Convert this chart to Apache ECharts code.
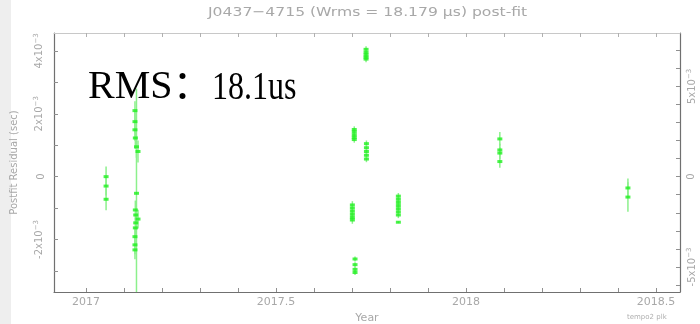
<!DOCTYPE html>
<html>
<head>
<meta charset="utf-8">
<script src="https://cdn.jsdelivr.net/npm/echarts@6/dist/echarts.min.js"></script>
<style>
  html, body { margin: 0; padding: 0; background: #fff; }
  #chart { width: 700px; height: 324px; }
</style>
</head>
<body>
<div id="chart"></div>
<script>
// Post-fit timing residuals of PSR J0437-4715
// Each TOA: epoch (year), residual (s), 1-sigma uncertainty (s)
const toaYear = [
  2017.053, 2017.053, 2017.053,
  2017.129, 2017.129, 2017.129, 2017.130, 2017.133, 2017.137, 2017.133,
  2017.130, 2017.131, 2017.137, 2017.131, 2017.130, 2017.129, 2017.129, 2017.129,
  2017.701, 2017.701, 2017.701, 2017.701, 2017.701, 2017.701,
  2017.706, 2017.706, 2017.706, 2017.706, 2017.706,
  2017.708, 2017.708, 2017.708, 2017.708,
  2017.737, 2017.737, 2017.737, 2017.737, 2017.737,
  2017.738, 2017.738, 2017.738, 2017.738, 2017.738,
  2017.822, 2017.822, 2017.822, 2017.822, 2017.822, 2017.822, 2017.822, 2017.822,
  2018.089, 2018.089, 2018.089, 2018.089,
  2018.426, 2018.426
];
const residualSec = [
  0.00e-3, -0.30e-3, -0.72e-3,
  2.10e-3, 1.75e-3, 1.49e-3, 1.23e-3, 0.95e-3, 0.80e-3, -0.53e-3,
  -1.06e-3, -1.22e-3, -1.35e-3, -1.47e-3, -1.63e-3, -1.91e-3, -2.17e-3, -2.33e-3,
  -0.90e-3, -1.00e-3, -1.10e-3, -1.20e-3, -1.30e-3, -1.38e-3,
  1.50e-3, 1.42e-3, 1.33e-3, 1.25e-3, 1.18e-3,
  -2.62e-3, -2.80e-3, -2.95e-3, -3.05e-3,
  4.05e-3, 3.95e-3, 3.87e-3, 3.80e-3, 3.74e-3,
  1.05e-3, 0.92e-3, 0.80e-3, 0.68e-3, 0.56e-3,
  -0.62e-3, -0.72e-3, -0.82e-3, -0.92e-3, -1.02e-3, -1.12e-3, -1.22e-3, -1.45e-3,
  1.20e-3, 0.85e-3, 0.75e-3, 0.48e-3,
  -0.36e-3, -0.65e-3
];
const errorSec = [
  0.32e-3, 0.30e-3, 0.35e-3,
  0.30e-3, 0.35e-3, 0.35e-3, 0.35e-3, 0.35e-3, 0.35e-3, 3.33e-3,
  0.30e-3, 0.30e-3, 0.30e-3, 0.30e-3, 0.30e-3, 0.30e-3, 0.30e-3, 0.30e-3,
  0.12e-3, 0.12e-3, 0.12e-3, 0.12e-3, 0.12e-3, 0.12e-3,
  0.10e-3, 0.10e-3, 0.10e-3, 0.10e-3, 0.10e-3,
  0.08e-3, 0.08e-3, 0.08e-3, 0.08e-3,
  0.10e-3, 0.10e-3, 0.10e-3, 0.10e-3, 0.10e-3,
  0.10e-3, 0.10e-3, 0.10e-3, 0.10e-3, 0.10e-3,
  0.10e-3, 0.10e-3, 0.10e-3, 0.10e-3, 0.10e-3, 0.10e-3, 0.10e-3, 0.03e-3,
  0.22e-3, 0.20e-3, 0.20e-3, 0.20e-3,
  0.30e-3, 0.47e-3
];

// Axis ticks and labels
const yearTicks = [2017.0, 2017.1, 2017.2, 2017.3, 2017.4, 2017.5, 2017.6, 2017.7, 2017.8, 2017.9,
                   2018.0, 2018.1, 2018.2, 2018.3, 2018.4, 2018.5];
const yearLabels = [2017, 2017.5, 2018, 2018.5];
const residualTicks = [-3e-3, -2e-3, -1e-3, 0, 1e-3, 2e-3, 3e-3, 4e-3];
const residualLabels = [-2e-3, 0, 2e-3, 4e-3];
const phaseTicks = [-6e-3, -5e-3, -4e-3, -3e-3, -2e-3, -1e-3, 0, 1e-3, 2e-3, 3e-3, 4e-3, 5e-3, 6e-3, 7e-3];
const phaseLabels = [-5e-3, 0, 5e-3];

const titleText = 'J0437\u22124715 (Wrms = 18.179 \u03bcs) post-fit';
const rmsHead = 'RMS\uff1a';
const rmsValue = '18.1us';

const textColor = '#a8a8a8';
const pointColor = '#1ef01e';
const barColor = '#8cf08c';

function sciLabel(v) {
  const m = Math.round(v * 1e3);
  if (m === 0) return '0';
  return m + 'x10{s|\u22123}';
}

const points = toaYear.map((t, i) => [t, residualSec[i], errorSec[i]]);

const chart = echarts.init(document.getElementById('chart'), null, { renderer: 'canvas' });

chart.setOption({
  backgroundColor: '#ffffff',
  animation: false,
  grid: { left: 54, right: 20, top: 33, bottom: 32, containLabel: false, outerBoundsMode: 'none' },
  xAxis: [
    {
      type: 'value', position: 'bottom',
      min: 2016.916, max: 2018.563,
      name: 'Year', nameLocation: 'middle', nameGap: 20,
      nameTextStyle: { color: textColor, fontSize: 11, fontFamily: 'DejaVu Sans' },
      axisLine: { onZero: false, lineStyle: { color: '#707070', width: 1.2 } },
      axisTick: { inside: true, length: 4, customValues: yearTicks, lineStyle: { color: '#909090' } },
      axisLabel: { customValues: yearLabels, color: textColor, fontSize: 11, margin: 5,
                   fontFamily: 'DejaVu Sans', formatter: v => String(v) },
      splitLine: { show: false }
    },
    {
      type: 'value', position: 'top',
      min: 2016.916, max: 2018.563,
      axisLine: { onZero: false, lineStyle: { color: '#c8c8c8', width: 1.2 } },
      axisTick: { inside: true, length: 4, customValues: yearTicks, lineStyle: { color: '#b0b0b0' } },
      axisLabel: { show: false },
      splitLine: { show: false }
    }
  ],
  yAxis: [
    {
      type: 'value', position: 'left',
      min: -3.67e-3, max: 4.57e-3,
      name: 'Postfit Residual (sec)', nameLocation: 'middle', nameGap: 35, nameRotate: 90,
      nameTextStyle: { color: textColor, fontSize: 10, fontFamily: 'DejaVu Sans' },
      axisLine: { show: true, onZero: false, lineStyle: { color: '#707070', width: 1.2 } },
      axisTick: { show: true, inside: true, length: 4, customValues: residualTicks, lineStyle: { color: '#909090' } },
      axisLabel: {
        customValues: residualLabels, rotate: 90, margin: 8,
        color: textColor, fontSize: 10, fontFamily: 'DejaVu Sans',
        formatter: sciLabel,
        rich: { s: { fontSize: 7, color: textColor, verticalAlign: 'top', padding: [0, 0, 6, 0] } }
      },
      splitLine: { show: false }
    },
    {
      type: 'value', position: 'right',
      min: -6.39e-3, max: 7.96e-3,
      axisLine: { show: true, onZero: false, lineStyle: { color: '#707070', width: 1.2 } },
      axisTick: { show: true, inside: true, length: 4, customValues: phaseTicks, lineStyle: { color: '#909090' } },
      axisLabel: {
        customValues: phaseLabels, rotate: 90, margin: 6,
        color: textColor, fontSize: 10, fontFamily: 'DejaVu Sans',
        formatter: sciLabel,
        rich: { s: { fontSize: 7, color: textColor, verticalAlign: 'top', padding: [0, 0, 6, 0] } }
      },
      splitLine: { show: false }
    }
  ],
  series: [
    {
      // vertical uncertainty bars
      type: 'custom',
      xAxisIndex: 0, yAxisIndex: 0,
      clip: true,
      data: points,
      renderItem: function (params, api) {
        const x = api.value(0), y = api.value(1), e = api.value(2);
        const top = api.coord([x, y + e]);
        const bot = api.coord([x, y - e]);
        return {
          type: 'line',
          shape: { x1: top[0], y1: top[1], x2: bot[0], y2: bot[1] },
          style: { stroke: barColor, lineWidth: 1.5 }
        };
      },
      encode: { x: 0, y: 1 },
      z: 2
    },
    {
      type: 'scatter',
      xAxisIndex: 0, yAxisIndex: 0,
      data: points.map(p => [p[0], p[1]]),
      symbol: 'rect',
      symbolSize: [5, 3],
      itemStyle: { color: pointColor },
      z: 3
    }
  ],
  graphic: [
    {
      type: 'rect', left: 0, top: 0, z: -10,
      shape: { width: 11, height: 324 },
      style: { fill: '#eeeeee' }
    },
    {
      // plot title, drawn wide
      type: 'text', x: 208, y: 6, scaleX: 1.2, z: 10,
      style: { text: titleText, fill: textColor, font: '13px "DejaVu Sans"' }
    },
    {
      type: 'text', x: 88, y: 68, z: 10,
      style: { text: rmsHead, fill: '#000000', font: '40px "Liberation Serif", "Noto Sans CJK SC", serif' }
    },
    {
      type: 'text', x: 212, y: 68, scaleX: 0.8, z: 10,
      style: { text: rmsValue, fill: '#000000', font: '40px "Liberation Serif", serif' }
    },
    {
      type: 'text', x: 627, y: 314, z: 10,
      style: { text: 'tempo2 plk', fill: '#b0b0b0', font: '7px "DejaVu Sans"' }
    }
  ]
});
</script>
</body>
</html>
